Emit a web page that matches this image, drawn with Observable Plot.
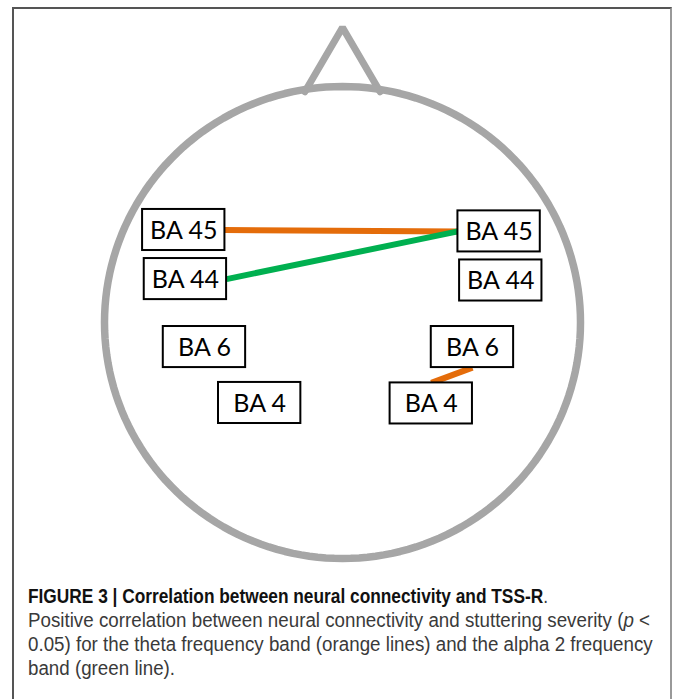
<!DOCTYPE html>
<html>
<head>
<meta charset="utf-8">
<script src="https://cdn.jsdelivr.net/npm/d3@7"></script>
<script src="https://cdn.jsdelivr.net/npm/@observablehq/plot@0.6"></script>
<style>
  html, body { margin: 0; padding: 0; background: #fff; }
  #wrap { position: relative; width: 673px; height: 699px; overflow: hidden; }
  #frame { position: absolute; left: 12px; top: 7px; width: 656px; height: 720px;
           border: 2px solid #555; border-bottom: none; border-right-color: #999; }
  #chart { position: absolute; left: 0; top: 0; }
  #caption { position: absolute; left: 28px; top: 584px;
             font-family: "Liberation Sans", Arial, sans-serif;
             font-size: 20px; line-height: 24px; color: #3a3a3a; }
  #caption .ln { display: block; white-space: nowrap; width: max-content;
                 transform-origin: 0 50%; }
  #caption b { color: #111; }
</style>
</head>
<body>
<div id="wrap">
  <div id="frame"></div>
  <div id="chart"></div>
  <div id="caption"></div>
</div>
<script>
// Brain regions (Brodmann areas), position on a head map with radius 100
const regionNames = ["BA 45", "BA 44", "BA 6", "BA 4", "BA 45", "BA 44", "BA 6", "BA 4"];
const regionSide  = ["L", "L", "L", "L", "R", "R", "R", "R"];
const regionX     = [-66.7, -66.0, -58.0, -34.8, 65.8, 66.5, 54.6, 37.3];
const regionY     = [39.2, 18.4, -10.4, -34.1, 38.6, 17.8, -10.4, -34.3];

// Significant connections
const linkFrom = ["BA 45 L", "BA 44 L", "BA 4 R"];
const linkTo   = ["BA 45 R", "BA 45 R", "BA 6 R"];
const linkBand = ["theta", "alpha 2", "theta"];

const bands = ["theta", "alpha 2"];
const bandColors = ["#E46C0A", "#00B050"];

// Head outline: circle radius 100, nose tip and half-width
const headRadius = 100;
const noseTip = 125;
const noseHalf = 15.8;

const captionTitle = "FIGURE 3 | Correlation between neural connectivity and TSS-R";
const captionLines = [
  "Positive correlation between neural connectivity and stuttering severity (<i>p</i> &lt;",
  "0.05) for the theta frequency band (orange lines) and the alpha 2 frequency",
  "band (green line)."
];
// widths the title and the first body line span in the figure (px)
const titleWidth = 520;
const bodyWidth = 622;

// ---- build tables ----
const boxHalfW = 17.3, boxHalfH = 8.7;
const regions = regionNames.map((name, i) => ({
  id: name + " " + regionSide[i], name, x: regionX[i], y: regionY[i]
}));
const byId = new Map(regions.map(r => [r.id, r]));

function anchor(a, b) {
  const dx = b.x - a.x, dy = b.y - a.y;
  if (Math.abs(dx) / boxHalfW > Math.abs(dy) / boxHalfH) {
    return {x: a.x + Math.sign(dx) * boxHalfW, y: a.y};
  }
  return {x: a.x, y: a.y + Math.sign(dy) * boxHalfH};
}
const links = linkFrom.map((f, i) => {
  const a = byId.get(f), b = byId.get(linkTo[i]);
  const p = anchor(a, b), q = anchor(b, a);
  return {x1: p.x, y1: p.y, x2: q.x, y2: q.y, band: linkBand[i]};
});

const angles = d3.range(0, 361, 2);
const head = angles.map(t => ({
  x: headRadius * Math.cos(t * Math.PI / 180),
  y: headRadius * Math.sin(t * Math.PI / 180)
}));
const noseBaseY = Math.sqrt(headRadius * headRadius - noseHalf * noseHalf) - 1;
const nose = [
  {x: -noseHalf, y: noseBaseY},
  {x: 0, y: noseTip},
  {x: noseHalf, y: noseBaseY}
];

const plot = Plot.plot({
  width: 673,
  height: 580,
  marginLeft: 104,
  marginRight: 93,
  marginTop: 86,
  marginBottom: 22,
  x: {domain: [-100, 100], axis: null},
  y: {domain: [-100, 100], axis: null},
  color: {domain: bands, range: bandColors},
  marks: [
    Plot.line(nose, {x: "x", y: "y", stroke: "#a6a6a6", strokeWidth: 7, strokeLinejoin: "miter"}),
    Plot.line(head, {x: "x", y: "y", stroke: "#a6a6a6", strokeWidth: 7.5, curve: "linear"}),
    Plot.link(links, {x1: "x1", y1: "y1", x2: "x2", y2: "y2", stroke: "band", strokeWidth: 6}),
    Plot.rect(regions, {
      x1: d => d.x - boxHalfW, x2: d => d.x + boxHalfW,
      y1: d => d.y - boxHalfH, y2: d => d.y + boxHalfH,
      fill: "white", stroke: "black", strokeWidth: 2
    }),
    Plot.text(regions, {x: "x", y: "y", text: "name", fontSize: 25,
      fontFamily: "Lato, 'Open Sans', sans-serif", fill: "black", dy: 1})
  ]
});
document.getElementById("chart").appendChild(plot);

const cap = document.getElementById("caption");
const htmlLines = ["<b>" + captionTitle + "</b>."].concat(captionLines);
const spans = htmlLines.map(h => {
  const s = document.createElement("span");
  s.className = "ln";
  s.innerHTML = h;
  cap.appendChild(s);
  return s;
});
const kTitle = titleWidth / spans[0].getBoundingClientRect().width;
const kBody = bodyWidth / spans[1].getBoundingClientRect().width;
spans.forEach((s, i) => {
  s.style.transform = "scaleX(" + (i === 0 ? kTitle : kBody) + ")";
});
</script>
</body>
</html>
